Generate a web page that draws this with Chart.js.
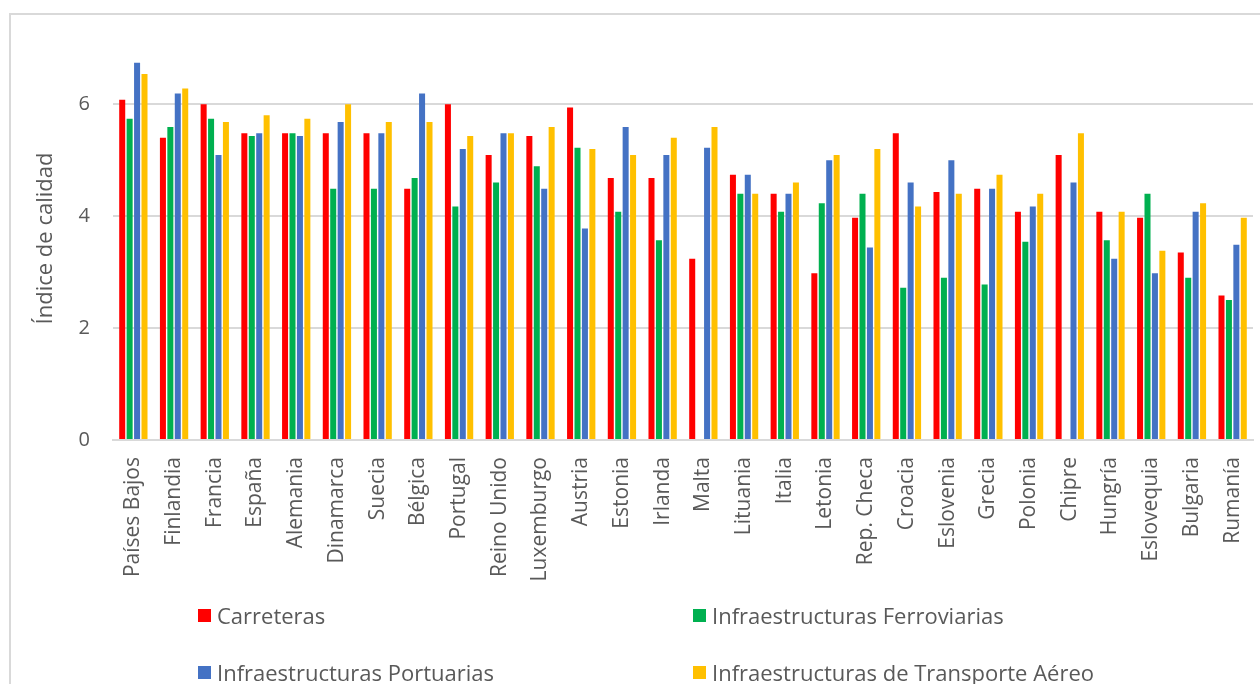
<!DOCTYPE html>
<html lang="es">
<head>
<meta charset="utf-8">
<title>Índice de calidad de las infraestructuras de transporte</title>
<script src="https://cdn.jsdelivr.net/npm/chart.js@4.4.1/dist/chart.umd.min.js"></script>
<style>
  html, body { margin: 0; padding: 0; background: #ffffff; }
  body { width: 1260px; height: 684px; position: relative; overflow: hidden; font-family: "Open Sans", sans-serif; }
  #frame { position: absolute; left: 9px; top: 13px; width: 1400px; height: 900px; border: 2px solid #d9d9d9; box-sizing: border-box; }
  #wrap { position: absolute; left: 0; top: 0; width: 1260px; height: 600px; }
  #legend { position: absolute; left: 0; top: 0; width: 1260px; height: 684px; pointer-events: none; }
  .item { position: absolute; display: flex; align-items: center; color: #595959; font-size: 22px; white-space: nowrap; line-height: 1; }
  .swatch { width: 13px; height: 13px; margin-right: 6px; flex: none; }
</style>
</head>
<body>
<div id="frame"></div>
<div id="wrap"><canvas id="chart" width="1260" height="600"></canvas></div>
<div id="legend"></div>
<script>
// Países de la UE ordenados por calidad de la red viaria
const paises = [
  "Países Bajos", "Finlandia", "Francia", "España", "Alemania", "Dinamarca",
  "Suecia", "Bélgica", "Portugal", "Reino Unido", "Luxemburgo", "Austria",
  "Estonia", "Irlanda", "Malta", "Lituania", "Italia", "Letonia",
  "Rep. Checa", "Croacia", "Eslovenia", "Grecia", "Polonia", "Chipre",
  "Hungría", "Eslovequia", "Bulgaria", "Rumanía"
];

const carreteras = [
  6.08, 5.40, 6.00, 5.48, 5.48, 5.48, 5.48, 4.49, 6.00, 5.09, 5.43, 5.94,
  4.68, 4.68, 3.24, 4.74, 4.40, 2.98, 3.97, 5.48, 4.43, 4.49, 4.08, 5.09,
  4.08, 3.97, 3.35, 2.58
];

// Malta y Chipre no tienen ferrocarril
const ferroviarias = [
  5.74, 5.59, 5.74, 5.43, 5.48, 4.49, 4.49, 4.68, 4.17, 4.60, 4.89, 5.22,
  4.08, 3.57, null, 4.40, 4.08, 4.23, 4.40, 2.72, 2.90, 2.78, 3.54, null,
  3.57, 4.40, 2.90, 2.50
];

const portuarias = [
  6.74, 6.19, 5.09, 5.48, 5.43, 5.68, 5.48, 6.19, 5.20, 5.48, 4.49, 3.78,
  5.59, 5.09, 5.22, 4.74, 4.40, 5.00, 3.44, 4.60, 5.00, 4.49, 4.17, 4.60,
  3.24, 2.98, 4.08, 3.49
];

const aereo = [
  6.54, 6.28, 5.68, 5.80, 5.74, 6.00, 5.68, 5.68, 5.43, 5.48, 5.59, 5.20,
  5.09, 5.40, 5.59, 4.40, 4.60, 5.09, 5.20, 4.17, 4.40, 4.74, 4.40, 5.48,
  4.08, 3.38, 4.23, 3.97
];

const series = ["Carreteras", "Infraestructuras Ferroviarias", "Infraestructuras Portuarias", "Infraestructuras de Transporte Aéreo"];
const colores = ["#ff0000", "#00b050", "#4472c4", "#ffc000"];
const ticksY = [0, 2, 4, 6];

const valores = [carreteras, ferroviarias, portuarias, aereo];
const gris = "#595959";
const linea = "#d9d9d9";

const chart = new Chart(document.getElementById("chart"), {
  type: "bar",
  data: {
    labels: paises,
    datasets: series.map((nombre, i) => ({
      label: nombre,
      data: valores[i],
      backgroundColor: colores[i],
      borderWidth: 0,
      categoryPercentage: 0.73,
      barPercentage: 0.81
    }))
  },
  options: {
    responsive: false,
    animation: false,
    devicePixelRatio: 1,
    layout: { padding: { top: 37, right: 7, left: 0, bottom: 0 } },
    plugins: {
      legend: { display: false },
      tooltip: { enabled: false }
    },
    scales: {
      x: {
        grid: { display: false, drawTicks: false },
        border: { display: true, color: linea, width: 2 },
        ticks: {
          color: gris,
          font: { family: "Open Sans", size: 21 },
          minRotation: 90,
          maxRotation: 90,
          autoSkip: false,
          padding: 17
        },
        afterFit: (s) => {
          s.height = 160;
          s.paddingLeft = 0;
          s.paddingRight = 0;
        }
      },
      y: {
        min: 0,
        max: 7.2,
        grid: { color: linea, lineWidth: 2, drawTicks: false },
        border: { display: false },
        ticks: {
          color: gris,
          font: { family: "Open Sans", size: 20 },
          padding: 23,
          stepSize: 2
        },
        afterBuildTicks: (s) => {
          s.ticks = ticksY.map(v => ({ value: v }));
        },
        title: {
          display: true,
          text: "Índice de calidad",
          color: gris,
          font: { family: "Open Sans", size: 22 },
          padding: { top: 33, bottom: 0 }
        },
        afterFit: (s) => { s.width = 113; }
      }
    }
  }
});

// Leyenda en dos columnas debajo del gráfico
const posiciones = [
  { left: 198, top: 608 },
  { left: 693, top: 608 },
  { left: 198, top: 665 },
  { left: 693, top: 665 }
];
const leyenda = document.getElementById("legend");
chart.data.datasets.forEach((ds, i) => {
  const p = posiciones[i];
  const el = document.createElement("div");
  el.className = "item";
  el.style.left = p.left + "px";
  el.style.top = (p.top - 4) + "px";
  const sw = document.createElement("span");
  sw.className = "swatch";
  sw.style.background = ds.backgroundColor;
  const tx = document.createElement("span");
  tx.textContent = ds.label;
  el.appendChild(sw);
  el.appendChild(tx);
  leyenda.appendChild(el);
});
</script>
</body>
</html>
